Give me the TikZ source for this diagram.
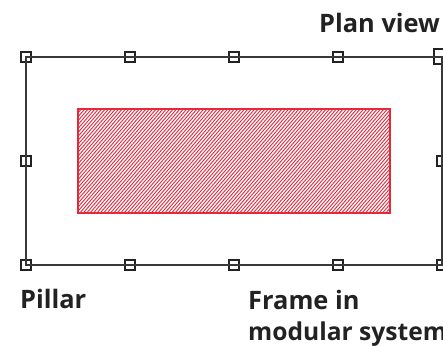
\documentclass[tikz,border=0pt]{standalone}
\usepackage{fontspec}
\setmainfont{Open Sans}
\definecolor{hatchred}{HTML}{E5283C}
\definecolor{inkdark}{HTML}{222222}
\tikzset{
  x=1pt,y=-1pt,
  post/.style={draw=inkdark,line width=1.3pt,fill=none,minimum size=10pt,inner sep=0pt,outer sep=0pt},
  bigpost/.style={post,minimum size=15pt},
  framewall/.style={draw=inkdark!90,line width=1.5pt},
  labeltext/.style={font=\bfseries\fontsize{25.4}{30}\selectfont,text=inkdark,inner sep=0pt,anchor=base west,align=left},
}
\begin{document}
\begin{tikzpicture}
\useasboundingbox (0,0) rectangle (443,345);
% hatched infill
\begin{scope}
\clip (78,109) rectangle (390,213);
\foreach \k in {0,3.4,...,430}{
  \draw[hatchred,line width=0.9pt] (78+\k-90,213) -- (78+\k,109);
}
\end{scope}
\coordinate (ra) at (78,109);
\coordinate (rb) at (390,213);
\draw[hatchred,line width=1.3pt] (ra) rectangle (rb);
% posts
\foreach \n/\x/\y in {a/26/57,b/130/57,c/234/57,d/338/57,f/26/161,g/442/161,h/26/265,i/130/265,j/234/265,k/338/265,l/442/265}{
  \node[post] (\n) at (\x,\y) {};
}
\node[bigpost] (e) at (441.5,56.5) {};
\coordinate (ec) at (442,57);
\draw[framewall] (a.center) -- (b.center) -- (c.center) -- (d.center) -- (ec) -- (g.center) -- (l.center) -- (k.center) -- (j.center) -- (i.center) -- (h.center) -- (f.center) -- cycle;
\node[labeltext] (plan) at (319,33) {Plan view};
\node[labeltext] (pillar) at (20,308) {Pillar};
\node[labeltext] (frm) at (248,309) {Frame in};
\node[labeltext,font=\bfseries\fontsize{24.6}{30}\selectfont] (mod) at (248,340) {modular system};
\end{tikzpicture}
\end{document}
